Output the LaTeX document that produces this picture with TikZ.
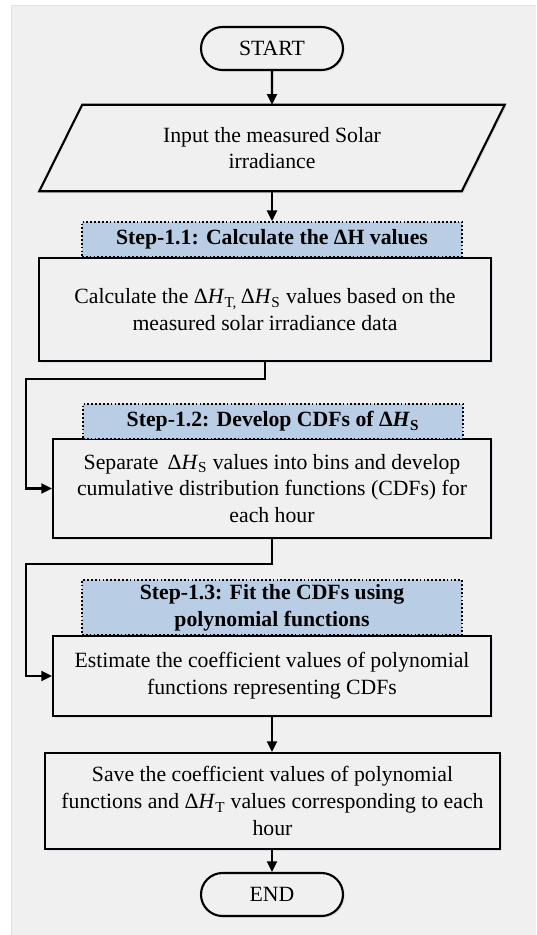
\documentclass[tikz,border=0pt]{standalone}
\usepackage{fontspec}
\setmainfont{Liberation Serif}
\usetikzlibrary{shapes.misc,arrows.meta,shadows}

\definecolor{pagebg}{HTML}{F0F0F0}
\definecolor{pageedge}{HTML}{DCE2EA}
\definecolor{stepblue}{HTML}{B9CDE5}
\definecolor{shadowc}{HTML}{DCE1E8}

% Delta H with an upright subscript
\newcommand{\dH}[1]{Δ\textit{H}\textsubscript{#1}}

\tikzset{
  px/.style={x=0.75pt,y=-0.75pt},
  basefont/.style={font=\fontsize{16.3}{20}\selectfont},
  shade/.style={drop shadow={shadow xshift=1.3pt,shadow yshift=-1.3pt,fill=shadowc,opacity=1}},
  box/.style={draw, line width=1.6pt, rectangle, fill=pagebg, align=center,
    inner sep=0pt, basefont, shade},
  terminal/.style={draw, line width=1.6pt, rounded rectangle, fill=pagebg,
    align=center, inner sep=0pt, basefont, shade,
    minimum width=142*0.75pt, minimum height=43*0.75pt},
  steplabel/.style={draw, line width=1.3pt, dash pattern=on 1.3pt off 1.6pt,
    fill=stepblue, align=center, inner sep=0pt,
    font=\fontsize{16.3}{20}\selectfont\bfseries},
  flow/.style={line width=1.6pt, -{Triangle[length=8pt,width=7.5pt]}},
  plain/.style={line width=1.6pt}
}

\begin{document}
\begin{tikzpicture}[px]
  % page background
  \useasboundingbox (0,0) rectangle (536,935);
  \fill[white] (0,0) rectangle (536,935);
  \fill[pagebg] (11,5) rectangle (536,935);
  \draw[pageedge, line width=1.2pt] (11.5,935) -- (11.5,5.5) -- (536,5.5);

  % terminals and input
  \node[terminal] (start) at (272,48.5) {START};

  \node[basefont, align=center, inner sep=0pt,
        minimum width=422*0.75pt, minimum height=86*0.75pt] (input) at (272,148)
        {Input the measured Solar\\irradiance};
  \fill[shadowc] ([xshift=17.4pt,yshift=-1.3pt]input.north west)
    -- ([xshift=17.4pt,yshift=-1.3pt]input.north east)
    -- ([xshift=-14.8pt,yshift=-1.3pt]input.south east)
    -- ([xshift=-14.8pt,yshift=-1.3pt]input.south west) -- cycle;
  \draw[plain, fill=pagebg] ([xshift=16.1pt]input.north west)
    -- ([xshift=16.1pt]input.north east)
    -- ([xshift=-16.1pt]input.south east)
    -- ([xshift=-16.1pt]input.south west) -- cycle;
  \node[basefont, align=center, inner sep=0pt] at (input.center)
        {Input the measured Solar\\irradiance};

  % step 1.1
  \node[box, minimum width=452*0.75pt, minimum height=103*0.75pt] (calc) at (265,309.5)
    {Calculate the \dH{T,}\,\dH{S} values based on the\\measured solar irradiance data};
  \node[steplabel, minimum width=380*0.75pt, minimum height=35*0.75pt] (s11) at (272,239.5)
    {Step-1.1: Calculate the ΔH values};

  % step 1.2
  \node[box, minimum width=438*0.75pt, minimum height=99*0.75pt] (sep) at (272,488.5)
    {Separate \,\dH{S} values into bins and develop\\cumulative distribution functions (CDFs) for\\each hour};
  \node[steplabel, minimum width=380*0.75pt, minimum height=35*0.75pt] (s12) at (273,421.5)
    {Step-1.2: Develop CDFs of Δ\textit{H}\textsubscript{S}};

  % step 1.3
  \node[box, minimum width=438*0.75pt, minimum height=80*0.75pt] (fit) at (272,676)
    {Estimate the coefficient values of polynomial\\functions representing CDFs};
  \node[steplabel, minimum width=380*0.75pt, minimum height=55*0.75pt] (s13) at (272,607.5)
    {Step-1.3: Fit the CDFs using\\polynomial functions};

  % saving and end
  \node[box, minimum width=455*0.75pt, minimum height=96*0.75pt] (save) at (272.5,801)
    {Save the coefficient values of polynomial\\functions and \dH{T} values corresponding to each\\hour};
  \node[terminal] (end) at (272,894.5) {END};

  % connectors
  \coordinate (bus1) at (26,379);
  \coordinate (bus2) at (26,564);
  \draw[flow] (start) -- (input.north);
  \draw[flow] (input.south) -- (s11);
  \draw[flow] (calc.south) |- (bus1) |- (sep.west);
  \draw[flow] (sep.south) |- (bus2) |- (fit.west);
  \draw[flow] (fit.south) -- (fit.south |- save.north);
  \draw[flow] (end.north |- save.south) -- (end.north);
\end{tikzpicture}
\end{document}
